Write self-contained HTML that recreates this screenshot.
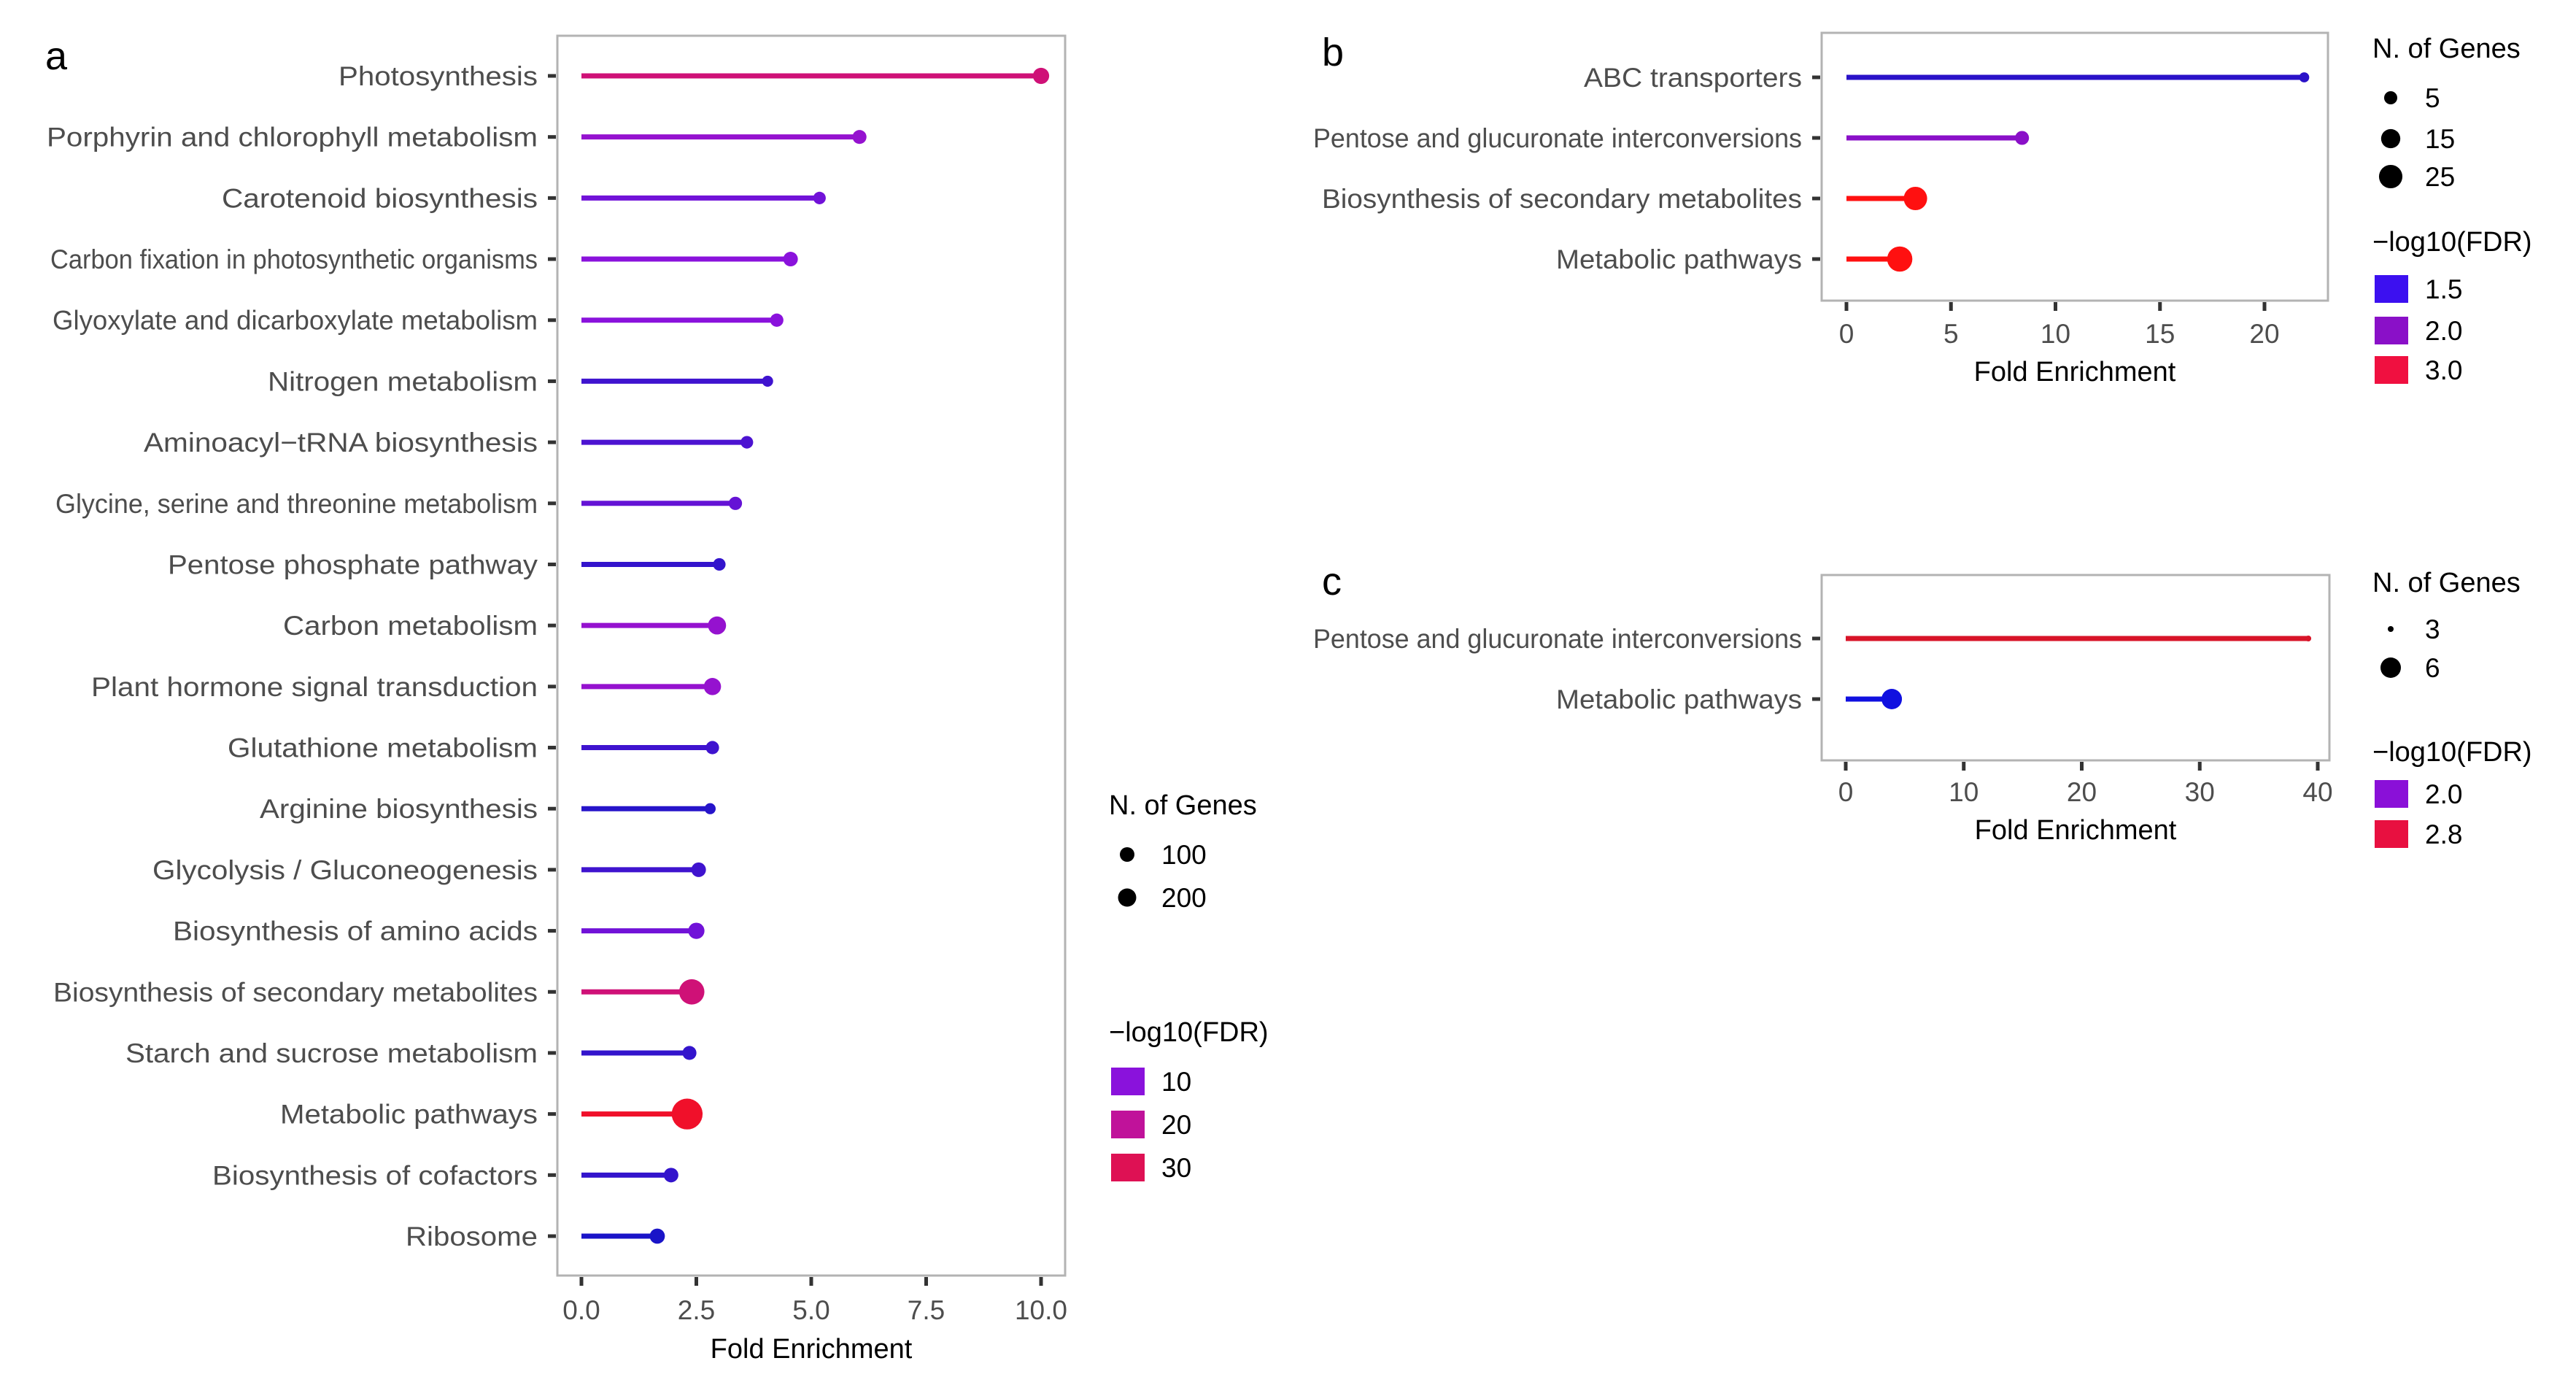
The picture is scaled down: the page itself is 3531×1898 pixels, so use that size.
<!DOCTYPE html>
<html><head><meta charset="utf-8"><style>
html,body{margin:0;padding:0;background:#fff;}
svg{display:block;font-family:"Liberation Sans",Arial,sans-serif;}
</style></head><body>
<svg id="fig" width="3531" height="1898" viewBox="0 0 3531 1898" xmlns="http://www.w3.org/2000/svg"></svg>
<script>
// Panel a data
const aCategories=["Photosynthesis","Porphyrin and chlorophyll metabolism","Carotenoid biosynthesis","Carbon fixation in photosynthetic organisms","Glyoxylate and dicarboxylate metabolism","Nitrogen metabolism","Aminoacyl\u2212tRNA biosynthesis","Glycine, serine and threonine metabolism","Pentose phosphate pathway","Carbon metabolism","Plant hormone signal transduction","Glutathione metabolism","Arginine biosynthesis","Glycolysis / Gluconeogenesis","Biosynthesis of amino acids","Biosynthesis of secondary metabolites","Starch and sucrose metabolism","Metabolic pathways","Biosynthesis of cofactors","Ribosome"];
const aFold=[10.0,6.05,5.18,4.55,4.25,4.05,3.6,3.35,3.0,2.95,2.85,2.85,2.8,2.55,2.5,2.4,2.35,2.3,1.95,1.65];
const aGenes=[50,30,20,35,25,12,20,25,20,70,60,25,12,35,50,180,30,300,35,40];
const aFDR=[25,12,8,10,10,4,5,7,3,12,12,4,2,4,8,25,3,36,3,1];
const aTicks=[0,2.5,5,7.5,10];
const aTickLabels=["0.0","2.5","5.0","7.5","10.0"];
const aLabelLen=[273,673,433,668,665,370,540,661,507,349,612,425,381,528,500,664,565,353,446,181];
const aSizeLegend=[100,200];
const aColorLegend=[10,20,30];
// Panel b data
const bCategories=["ABC transporters","Pentose and glucuronate interconversions","Biosynthesis of secondary metabolites","Metabolic pathways"];
const bFold=[21.9,8.4,3.3,2.55];
const bGenes=[2,6,25,30];
const bFDR=[1.3,2.0,3.2,3.2];
const bTicks=[0,5,10,15,20];
const bTickLabels=["0","5","10","15","20"];
const bLabelLen=[299,670,658,337];
const bSizeLegend=[5,15,25];
const bColorLegend=[1.5,2.0,3.0];
// Panel c data
const cCategories=["Pentose and glucuronate interconversions","Metabolic pathways"];
const cFold=[39.2,3.9];
const cGenes=[3,6];
const cFDR=[2.9,1.2];
const cTicks=[0,10,20,30,40];
const cTickLabels=["0","10","20","30","40"];
const cLabelLen=[670,337];
const cSizeLegend=[3,6];
const cColorLegend=[2.0,2.8];

const NS="http://www.w3.org/2000/svg";
const svg=document.getElementById('fig');
function mk(tag,attrs,parent,text){const e=document.createElementNS(NS,tag);for(const k in attrs)e.setAttribute(k,attrs[k]);if(text!==undefined)e.textContent=text;(parent||svg).appendChild(e);return e;}
function hex(c){return [parseInt(c.substr(1,2),16),parseInt(c.substr(3,2),16),parseInt(c.substr(5,2),16)];}
function colorScale(stops){return v=>{if(v<=stops[0][0])return stops[0][1];for(let i=1;i<stops.length;i++){if(v<=stops[i][0]){const t=(v-stops[i-1][0])/(stops[i][0]-stops[i-1][0]);const a=hex(stops[i-1][1]),b=hex(stops[i][1]);return 'rgb('+a.map((x,j)=>Math.round(x+(b[j]-x)*t)).join(',')+')';}}return stops[stops.length-1][1];};}

function panel(p){
  const g=mk('g',{});
  
  
  const xs=v=>p.x0+(v-p.dmin)*(p.x1-p.x0)/(p.dmax-p.dmin);
  const n=p.cats.length;
  const ys=i=>p.yFirst+i*(p.yLast-p.yFirst)/Math.max(1,n-1);
  const box=mk('rect',{x:p.L,y:p.T,width:p.R-p.L,height:p.B-p.T,fill:'#fff',stroke:'#b3b3b3','stroke-width':3},g);
  
  
  const lt=mk('text',{x:p.letterX,y:p.letterY,'font-size':54,fill:'#000'},g,p.letter);
  
  
  for(let i=0;i<n;i++){
    const y=ys(i);
    const lab=mk('text',{x:p.L-27,y:y+13,'font-size':37,fill:'#4d4d4d','text-anchor':'end',textLength:p.lens[i],lengthAdjust:'spacingAndGlyphs'},g,p.cats[i]);
    
    
    const tk=mk('line',{x1:p.L-13,x2:p.L-2,y1:y,y2:y,stroke:'#333','stroke-width':5},g);
    
    
    const col=p.color(p.fdr[i]);
    const ln=mk('line',{x1:xs(0),x2:xs(p.fold[i]),y1:y,y2:y,stroke:col,'stroke-width':7},g);
    
    
    const c=mk('circle',{cx:xs(p.fold[i]),cy:y,r:p.size(p.genes[i]),fill:col},g);
    
    
  }
  p.ticks.forEach((t,i)=>{
    const x=xs(t);
    const tk=mk('line',{x1:x,x2:x,y1:p.B+2,y2:p.B+14,stroke:'#333','stroke-width':5},g);
    
    
    const tl=mk('text',{x:x,y:p.tickY,'font-size':37,fill:'#4d4d4d','text-anchor':'middle'},g,p.tickLabels[i]);
    
    
  });
  const xt=mk('text',{x:(p.L+p.R)/2,y:p.titleY,'font-size':38,fill:'#000','text-anchor':'middle'},g,'Fold Enrichment');
  
  
  const st=mk('text',{x:p.legX,y:p.sizeTitleY+13,'font-size':38,fill:'#000'},g,'N. of Genes');
  
  
  p.sizeLeg.forEach((v,i)=>{
    const y=p.sizeY[i];
    const d=mk('circle',{cx:p.legX+25,cy:y,r:p.legSize(v),fill:'#000'},g);
    
    
    const t=mk('text',{x:p.legX+72,y:y+13,'font-size':37,fill:'#000'},g,String(v));
    
    
  });
  const ct=mk('text',{x:p.legX,y:p.colTitleY+13,'font-size':38,fill:'#000'},g,'\u2212log10(FDR)');
  
  
  p.colorLeg.forEach((v,i)=>{
    const y=p.colY[i];
    const r=mk('rect',{x:p.legX+3,y:y-19,width:46,height:38,fill:p.color(v)},g);
    
    
    const t=mk('text',{x:p.legX+72,y:y+13,'font-size':37,fill:'#000'},g,p.colorLegFmt(v));
    
    
  });
}

panel({name:'panel-a',letter:'a',letterX:62,letterY:95,cats:aCategories,fold:aFold,genes:aGenes,fdr:aFDR,lens:aLabelLen,
  ticks:aTicks,tickLabels:aTickLabels,dmin:0,dmax:10,x0:797,x1:1427,L:764,R:1460,T:49,B:1748,yFirst:104,yLast:1694,tickY:1808,titleY:1861,
  color:colorScale([[1,'#1a14c8'],[10,'#8a12dc'],[20,'#c0129a'],[36,'#f0102a']]),size:v=>4.2+0.98*Math.sqrt(v),legSize:v=>4+0.6*Math.sqrt(v),
  legX:1520,sizeTitleY:1103,sizeLeg:aSizeLegend,sizeY:[1171,1230],colTitleY:1414,colorLeg:aColorLegend,colY:[1482,1541,1600],colorLegFmt:v=>String(v)});
panel({name:'panel-b',letter:'b',letterX:1812,letterY:90,cats:bCategories,fold:bFold,genes:bGenes,fdr:bFDR,lens:bLabelLen,
  ticks:bTicks,tickLabels:bTickLabels,dmin:0,dmax:20,x0:2531,x1:3104,L:2497,R:3191,T:45,B:412,yFirst:106,yLast:355,tickY:470,titleY:522,
  color:colorScale([[1.3,'#2a12c8'],[1.5,'#3c10f0'],[2.0,'#8a10c8'],[3.0,'#f01040'],[3.2,'#ff1010']]),size:v=>3.3+2.55*Math.sqrt(v),legSize:v=>3.3+2.55*Math.sqrt(v),
  legX:3252,sizeTitleY:66,sizeLeg:bSizeLegend,sizeY:[134,190,242],colTitleY:331,colorLeg:bColorLegend,colY:[396,453,507],colorLegFmt:v=>v.toFixed(1)});
panel({name:'panel-c',letter:'c',letterX:1812,letterY:815,cats:cCategories,fold:cFold,genes:cGenes,fdr:cFDR,lens:cLabelLen,
  ticks:cTicks,tickLabels:cTickLabels,dmin:0,dmax:40,x0:2530,x1:3177,L:2497,R:3193,T:788,B:1042,yFirst:875,yLast:958,tickY:1098,titleY:1150,
  color:colorScale([[1.2,'#1010e0'],[2.0,'#8a10d8'],[2.8,'#e81040'],[2.9,'#d81428']]),size:v=>Math.sqrt(Math.max(4,60*v-164)),legSize:v=>Math.sqrt(Math.max(4,60*v-164)),
  legX:3252,sizeTitleY:798,sizeLeg:cSizeLegend,sizeY:[862,915],colTitleY:1030,colorLeg:cColorLegend,colY:[1088,1143],colorLegFmt:v=>v.toFixed(1)});
</script>
</body></html>
